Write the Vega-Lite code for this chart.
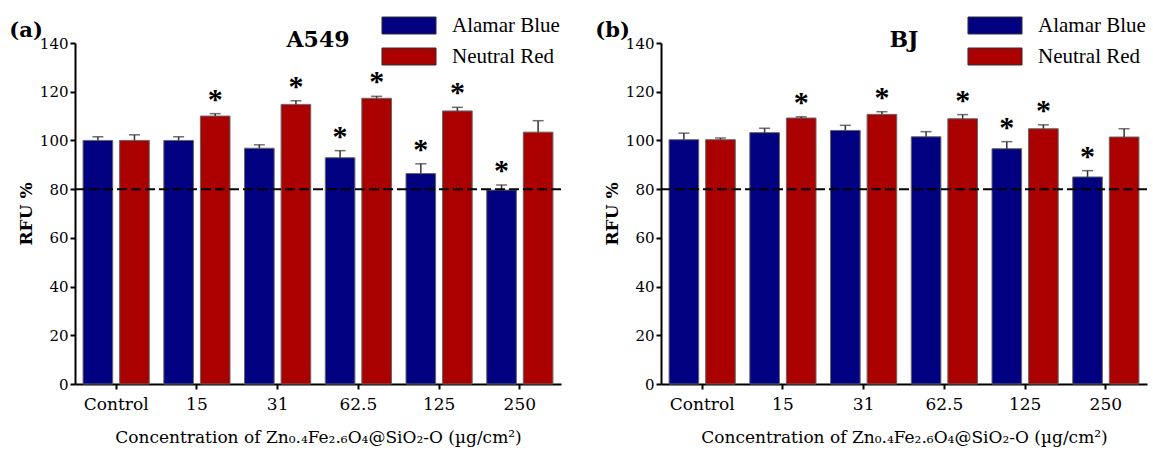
{
  "$schema": "https://vega.github.io/schema/vega-lite/v6.json",
  "background": "white",
  "padding": {"left": 9, "top": 15, "right": 5, "bottom": 2},
  "config": {
    "view": {"stroke": null},
    "font": "DejaVu Serif",
    "style": {"guide-label": {"font": "DejaVu Serif"}, "guide-title": {"font": "DejaVu Serif"}},
    "text": {"font": "DejaVu Serif"},
    "axis": {"domainColor": "black", "tickColor": "black", "labelColor": "black", "titleColor": "black", "labelFont": "DejaVu Serif", "titleFont": "DejaVu Serif", "grid": false},
    "axisX": {"domainWidth": 2, "tickWidth": 2, "tickSize": 5, "labelFont": "DejaVu Serif", "labelFontSize": 17, "labelPadding": 7, "labelAngle": 0, "titleFont": "DejaVu Serif", "titleFontSize": 17, "titleFontWeight": "normal", "titlePadding": 17},
    "axisY": {"domainWidth": 2, "tickWidth": 2, "tickSize": 5, "labelFont": "DejaVu Serif", "labelFontSize": 15, "labelPadding": 2, "titleFont": "DejaVu Serif", "titleFontSize": 17, "titleFontWeight": "bold", "titlePadding": 4, "tickCount": 7},
    "legend": {"labelFont": "Liberation Serif", "labelFontSize": 21, "labelColor": "black", "padding": 0, "rowPadding": 9, "labelOffset": 32.5, "symbolSize": 289, "symbolType": "M-3.18,-1L3.18,-1L3.18,1L-3.18,1Z", "symbolStrokeColor": "#333", "symbolStrokeWidth": 1}
  },
  "data": {"values": [
    {"panel": "A549", "conc": "Control", "assay": "Alamar Blue", "value": 100.0, "upper": 101.5, "sig": ""},
    {"panel": "A549", "conc": "Control", "assay": "Neutral Red", "value": 100.0, "upper": 102.3, "sig": ""},
    {"panel": "A549", "conc": "15", "assay": "Alamar Blue", "value": 100.0, "upper": 101.5, "sig": ""},
    {"panel": "A549", "conc": "15", "assay": "Neutral Red", "value": 110.0, "upper": 111.0, "sig": "*"},
    {"panel": "A549", "conc": "31", "assay": "Alamar Blue", "value": 96.8, "upper": 98.2, "sig": ""},
    {"panel": "A549", "conc": "31", "assay": "Neutral Red", "value": 114.8, "upper": 116.3, "sig": "*"},
    {"panel": "A549", "conc": "62.5", "assay": "Alamar Blue", "value": 92.9, "upper": 95.8, "sig": "*"},
    {"panel": "A549", "conc": "62.5", "assay": "Neutral Red", "value": 117.3, "upper": 118.1, "sig": "*"},
    {"panel": "A549", "conc": "125", "assay": "Alamar Blue", "value": 86.4, "upper": 90.4, "sig": "*"},
    {"panel": "A549", "conc": "125", "assay": "Neutral Red", "value": 112.1, "upper": 113.6, "sig": "*"},
    {"panel": "A549", "conc": "250", "assay": "Alamar Blue", "value": 79.6, "upper": 81.7, "sig": "*"},
    {"panel": "A549", "conc": "250", "assay": "Neutral Red", "value": 103.4, "upper": 108.1, "sig": ""},
    {"panel": "BJ", "conc": "Control", "assay": "Alamar Blue", "value": 100.3, "upper": 103.0, "sig": ""},
    {"panel": "BJ", "conc": "Control", "assay": "Neutral Red", "value": 100.3, "upper": 101.0, "sig": ""},
    {"panel": "BJ", "conc": "15", "assay": "Alamar Blue", "value": 103.2, "upper": 105.0, "sig": ""},
    {"panel": "BJ", "conc": "15", "assay": "Neutral Red", "value": 109.2, "upper": 109.7, "sig": "*"},
    {"panel": "BJ", "conc": "31", "assay": "Alamar Blue", "value": 104.1, "upper": 106.2, "sig": ""},
    {"panel": "BJ", "conc": "31", "assay": "Neutral Red", "value": 110.7, "upper": 111.8, "sig": "*"},
    {"panel": "BJ", "conc": "62.5", "assay": "Alamar Blue", "value": 101.5, "upper": 103.6, "sig": ""},
    {"panel": "BJ", "conc": "62.5", "assay": "Neutral Red", "value": 108.9, "upper": 110.6, "sig": "*"},
    {"panel": "BJ", "conc": "125", "assay": "Alamar Blue", "value": 96.6, "upper": 99.5, "sig": "*"},
    {"panel": "BJ", "conc": "125", "assay": "Neutral Red", "value": 104.8, "upper": 106.4, "sig": "*"},
    {"panel": "BJ", "conc": "250", "assay": "Alamar Blue", "value": 85.0, "upper": 87.6, "sig": "*"},
    {"panel": "BJ", "conc": "250", "assay": "Neutral Red", "value": 101.4, "upper": 104.8, "sig": ""}
  ]},
  "spacing": 33,
  "resolve": {"legend": {"color": "independent"}},
  "hconcat": [
    {
      "title": {"text": "(a)", "anchor": "start", "frame": "bounds", "fontSize": 21, "fontWeight": "bold", "font": "DejaVu Serif", "color": "black", "offset": -26, "dx": -8},
      "resolve": {"legend": {"color": "independent"}},
      "vconcat": [
        {
          "title": {"text": "A549", "anchor": "middle", "frame": "group", "fontSize": 22, "fontWeight": "bold", "font": "DejaVu Serif", "color": "black", "offset": -37},
          "width": 486, "height": 341,
          "transform": [{"filter": "datum.panel == 'A549'"}],
          "layer": [
            {
              "mark": {"type": "bar", "stroke": "#666", "strokeWidth": 1},
              "encoding": {
                "x": {"field": "conc", "type": "nominal", "sort": ["Control", "15", "31", "62.5", "125", "250"], "scale": {"paddingInner": 0.18, "paddingOuter": 0.1}, "title": "Concentration of Zn₀.₄Fe₂.₆O₄@SiO₂-O (µg/cm²)", "axis": {"labelFont": "DejaVu Serif", "titleFont": "DejaVu Serif"}},
                "xOffset": {"field": "assay", "type": "nominal", "scale": {"paddingInner": 0.19, "paddingOuter": 0}},
                "y": {"field": "value", "type": "quantitative", "scale": {"domain": [0, 140]}, "title": "RFU %", "axis": {"labelFont": "DejaVu Serif", "titleFont": "DejaVu Serif"}},
                "color": {"field": "assay", "type": "nominal", "scale": {"domain": ["Alamar Blue", "Neutral Red"], "range": ["#000080", "#aa0000"]}, "legend": {"orient": "none", "legendX": 323.5, "legendY": -28, "title": null}}
              }
            },
            {
              "mark": {"type": "rule", "color": "#333", "strokeWidth": 1.5},
              "encoding": {
                "x": {"field": "conc", "type": "nominal", "sort": ["Control", "15", "31", "62.5", "125", "250"], "title": "Concentration of Zn₀.₄Fe₂.₆O₄@SiO₂-O (µg/cm²)"},
                "xOffset": {"field": "assay", "type": "nominal"},
                "y": {"field": "value", "type": "quantitative", "title": "RFU %"},
                "y2": {"field": "upper"}
              }
            },
            {
              "mark": {"type": "tick", "color": "#333", "thickness": 1.5, "size": 11, "orient": "horizontal"},
              "encoding": {
                "x": {"field": "conc", "type": "nominal", "sort": ["Control", "15", "31", "62.5", "125", "250"], "title": "Concentration of Zn₀.₄Fe₂.₆O₄@SiO₂-O (µg/cm²)"},
                "xOffset": {"field": "assay", "type": "nominal"},
                "y": {"field": "upper", "type": "quantitative", "title": "RFU %"}
              }
            },
            {
              "transform": [{"filter": "datum.sig == '*'"}],
              "mark": {"type": "text", "font": "Liberation Serif", "fontWeight": "bold", "fontSize": 30, "baseline": "alphabetic", "dy": -5, "color": "black"},
              "encoding": {
                "x": {"field": "conc", "type": "nominal", "sort": ["Control", "15", "31", "62.5", "125", "250"], "title": "Concentration of Zn₀.₄Fe₂.₆O₄@SiO₂-O (µg/cm²)"},
                "xOffset": {"field": "assay", "type": "nominal"},
                "y": {"field": "upper", "type": "quantitative", "title": "RFU %"},
                "text": {"field": "sig"}
              }
            },
            {
              "data": {"values": [{"threshold": 80}]},
              "mark": {"type": "rule", "color": "black", "strokeWidth": 2, "strokeDash": [10, 4]},
              "encoding": {"y": {"field": "threshold", "type": "quantitative", "title": "RFU %"}}
            }
          ]
        }
      ]
    },
    {
      "title": {"text": "(b)", "anchor": "start", "frame": "bounds", "fontSize": 21, "fontWeight": "bold", "font": "DejaVu Serif", "color": "black", "offset": -26, "dx": -8},
      "resolve": {"legend": {"color": "independent"}},
      "vconcat": [
        {
          "title": {"text": "BJ", "anchor": "middle", "frame": "group", "fontSize": 22, "fontWeight": "bold", "font": "DejaVu Serif", "color": "black", "offset": -37},
          "width": 486, "height": 341,
          "transform": [{"filter": "datum.panel == 'BJ'"}],
          "layer": [
            {
              "mark": {"type": "bar", "stroke": "#666", "strokeWidth": 1},
              "encoding": {
                "x": {"field": "conc", "type": "nominal", "sort": ["Control", "15", "31", "62.5", "125", "250"], "scale": {"paddingInner": 0.18, "paddingOuter": 0.1}, "title": "Concentration of Zn₀.₄Fe₂.₆O₄@SiO₂-O (µg/cm²)", "axis": {"labelFont": "DejaVu Serif", "titleFont": "DejaVu Serif"}},
                "xOffset": {"field": "assay", "type": "nominal", "scale": {"paddingInner": 0.19, "paddingOuter": 0}},
                "y": {"field": "value", "type": "quantitative", "scale": {"domain": [0, 140]}, "title": "RFU %", "axis": {"labelFont": "DejaVu Serif", "titleFont": "DejaVu Serif"}},
                "color": {"field": "assay", "type": "nominal", "scale": {"domain": ["Alamar Blue", "Neutral Red"], "range": ["#000080", "#aa0000"]}, "legend": {"orient": "none", "legendX": 323.5, "legendY": -28, "title": null}}
              }
            },
            {
              "mark": {"type": "rule", "color": "#333", "strokeWidth": 1.5},
              "encoding": {
                "x": {"field": "conc", "type": "nominal", "sort": ["Control", "15", "31", "62.5", "125", "250"], "title": "Concentration of Zn₀.₄Fe₂.₆O₄@SiO₂-O (µg/cm²)"},
                "xOffset": {"field": "assay", "type": "nominal"},
                "y": {"field": "value", "type": "quantitative", "title": "RFU %"},
                "y2": {"field": "upper"}
              }
            },
            {
              "mark": {"type": "tick", "color": "#333", "thickness": 1.5, "size": 11, "orient": "horizontal"},
              "encoding": {
                "x": {"field": "conc", "type": "nominal", "sort": ["Control", "15", "31", "62.5", "125", "250"], "title": "Concentration of Zn₀.₄Fe₂.₆O₄@SiO₂-O (µg/cm²)"},
                "xOffset": {"field": "assay", "type": "nominal"},
                "y": {"field": "upper", "type": "quantitative", "title": "RFU %"}
              }
            },
            {
              "transform": [{"filter": "datum.sig == '*'"}],
              "mark": {"type": "text", "font": "Liberation Serif", "fontWeight": "bold", "fontSize": 30, "baseline": "alphabetic", "dy": -5, "color": "black"},
              "encoding": {
                "x": {"field": "conc", "type": "nominal", "sort": ["Control", "15", "31", "62.5", "125", "250"], "title": "Concentration of Zn₀.₄Fe₂.₆O₄@SiO₂-O (µg/cm²)"},
                "xOffset": {"field": "assay", "type": "nominal"},
                "y": {"field": "upper", "type": "quantitative", "title": "RFU %"},
                "text": {"field": "sig"}
              }
            },
            {
              "data": {"values": [{"threshold": 80}]},
              "mark": {"type": "rule", "color": "black", "strokeWidth": 2, "strokeDash": [10, 4]},
              "encoding": {"y": {"field": "threshold", "type": "quantitative", "title": "RFU %"}}
            }
          ]
        }
      ]
    }
  ]
}
